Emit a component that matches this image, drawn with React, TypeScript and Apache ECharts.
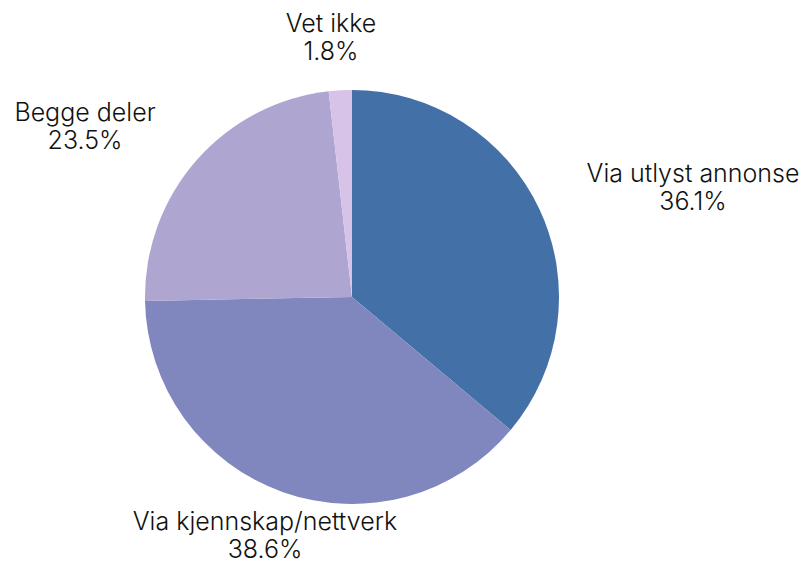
import React, { useEffect, useRef } from "react";
import * as echarts from "echarts";

const categories = ["Via utlyst annonse", "Via kjennskap/nettverk", "Begge deler", "Vet ikke"];
const values = [36.1, 38.6, 23.5, 1.8];
const colors = ["#4470A8", "#7F87BE", "#AEA5D1", "#D8C3E8"];
// label block centres (layout only)
const labelCentres = [
  [693, 187],
  [265, 535],
  [85, 126],
  [331, 37],
];

export default function App() {
  const ref = useRef<HTMLDivElement>(null);
  useEffect(() => {
    const chart = echarts.init(ref.current!, null, { renderer: "svg" });
    chart.setOption({
      animation: false,
      backgroundColor: "#ffffff",
      series: [
        {
          type: "pie",
          center: [352, 297],
          radius: 207,
          startAngle: 90,
          clockwise: true,
          avoidLabelOverlap: false,
          data: categories.map((c, i) => ({ name: c, value: values[i], itemStyle: { color: colors[i] } })),
          label: {
            show: true,
            position: "outside",
            formatter: (p: any) => `${p.name}\n${p.value.toFixed(1)}%`,
            fontFamily: "Inter",
            fontSize: 25,
            fontWeight: 300,
            lineHeight: 28,
            color: "#111111",
            align: "center",
            overflow: "none",
            width: 400,
          },
          labelLine: { show: false },
          labelLayout: (params: any) => ({
            x: labelCentres[params.dataIndex][0],
            y: labelCentres[params.dataIndex][1],
            align: "center",
            verticalAlign: "middle",
          }),
          emphasis: { disabled: true },
        },
      ],
    });
    return () => chart.dispose();
  }, []);
  return <div ref={ref} style={{ position: "fixed", left: 0, top: 0, width: 803, height: 565 }} />;
}
